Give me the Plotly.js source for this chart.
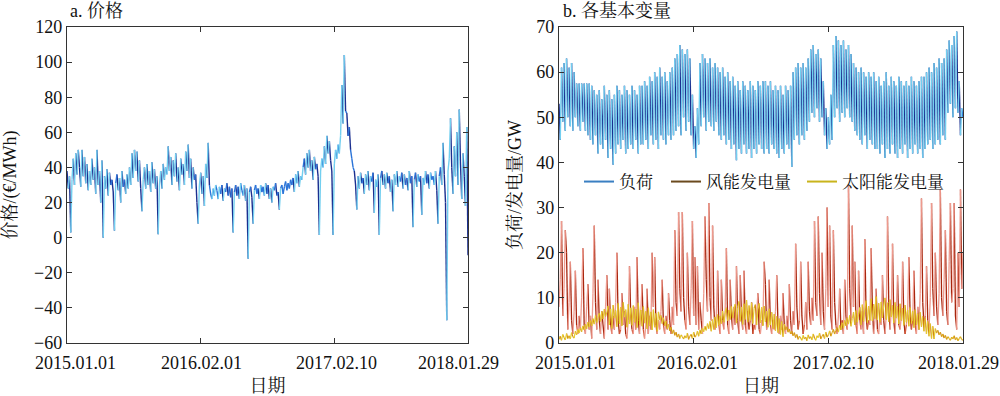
<!DOCTYPE html>
<html><head><meta charset="utf-8">
<script src="https://cdn.plot.ly/plotly-3.0.1.min.js"></script>
<style>html,body{margin:0;padding:0;background:#fff}</style>
</head><body><div id="chart" style="width:1000px;height:396px"></div>
<script>
const SPAN_DAYS = 1124;
const xTickLabels = ['2015.01.01','2016.02.01','2017.02.10','2018.01.29'];
const panelTitles = ['a. 价格','b. 各基本变量'];
const seriesNames = ['负荷','风能发电量','太阳能发电量'];

const price = [
38,28,35,3,33,45,30,48,36,50,40,29,50,35,46,31,42,27,38,30,
45,33,40,25,50,30,38,20,44,0,35,28,39,24,37,30,33,26,4,31,
36,27,34,20,38,29,33,25,36,28,40,30,48,34,50,38,49,32,44,28,
15,33,40,28,42,30,38,26,43,31,39,28,35,2,30,38,28,42,33,40,
36,52,38,46,30,44,35,48,32,40,27,45,36,42,30,49,38,53,34,45,
28,40,33,36,20,8,30,37,25,35,18,42,34,54,30,25,22,28,24,30,
27,22,29,25,30,21,28,26,31,24,29,23,28,3,26,30,24,29,22,31,
27,24,30,21,28,-12,26,29,23,8,27,30,25,28,22,30,26,29,24,31,
25,30,22,28,20,29,27,31,24,26,16,28,30,25,29,32,27,31,28,33,
30,34,26,36,31,38,29,35,33,40,
45,36,48,40,50,38,44,33,46,39,42,35,1.5,38,45,40,52,42,58,48,
55,44,38,1.5,42,50,45,53,48,58,87,65,104,72,71,58,63,50,45,40,
38,30,16,35,28,37,31,34,25,36,30,38,27,35,32,37,14,33,29,36,
1.5,34,38,30,36,28,37,31,35,26,33,15,36,30,38,29,35,32,37,28,
36,30,34,27,38,31,35,6,33,37,29,36,32,35,13,34,30,38,31,36,
28,37,33,35,30,38,27,8,35,40,
30,54,36,20,-47,38,45,68,40,25,52,35,60,30,73,42,22,48,35,18,63,-10
];

const load = [
53,45,61,49,62,47,63,50,61,48,62,47,60,50,
57.5,48,57.5,47,57.5,49,57.5,47,57.5,46,57.5,45,57,44,56,46,
55,42,56,44,54,43,57,45,55,41,56,43,54,39.5,55,42,57,44,56,43,55,45,57,42,56,43,55,44,57,43,56,45,55,42,57,44,
57,44,58,45,57,43,59,46,58,44,60,45,59,43,61,46,59,45,60,44,58,46,60,45,61,46,
63,47,64,48,66,46,65,50,64,47,65,49,63,46,
55,43,48,41,52,44,
62,48,64,50,63,47,62,49,63,48,61,47,62,49,61,46,
60,45,61,46,59,44,60,45,58,43,59,44,57,40.5,58,43,56,42,58,44,57,42,56,43,58,41,57,43,56,42,58,44,57,43,58,42,
58,43,57,42,58,44,56,43,57,42,56,41,57,43,55,42,57,44,56,43,57,39,
60,45,61,46,62,44,61,46,62,45,61,47,
63,49,65,51,66,50,64,52,65,49,63,50,
58,46,52,43,50,44,55,45,
66,50,68,52,67,49,66,51,67,50,65,52,66,50,64,49,
62,47,61,46,60,45,61,44,60,46,59,43,60,45,59,44,60,43,
58,43,59,42,57,44,58,41,60,43,57,42,59,44,58,42,57,41,59,43,58,42,57,44,58,41,57,43,59,42,58,44,57,42,58,43,59,41,
59,43,60,44,61,45,60,43,62,44,61,45,63,44,62,46,63,45,
65,51,67,53,66,50,68,52,69,51,
58,46,52,50
];

const wind = [
8,14,27,6,12,25,20,3,9,18,5,2,7,16,4,2,6,3,10,21,
4,2,8,13,3,6,1,11,26,9,3,14,5,2,7,4,1,8,15,3,
12,4,2,6,3,9,20,5,2,3,11,4,7,2,1,5,17,6,3,2,
8,3,19,5,2,7,13,3,1,4,12,2,6,3,20,8,19,4,2,5,
3,7,14,4,2,6,3,11,5,2,8,4,25,9,6,29,12,7,29,10,
5,3,20,8,4,12,27,6,19,4,17,3,9,5,2,11,28,14,7,31,
10,5,26,8,3,6,16,4,2,14,5,3,7,21,4,2,14,6,3,8,
4,17,5,2,15,6,3,16,4,2,7,3,5,9,2,4,3,6,11,3,
2,5,4,18,13,3,6,14,4,2,5,3,7,15,4,2,6,3,11,4,
2,6,3,13,5,2,7,4,22,8,3,5,18,6,2,4,9,3,18,7,
4,10,5,27,9,6,28,11,4,20,7,3,12,30,8,26,6,3,25,9,
4,2,6,12,3,5,2,14,6,3,35,12,5,26,8,18,4,2,16,5,
3,7,2,23,6,3,5,4,21,8,2,5,12,3,2,6,4,15,5,2,
6,28,9,3,7,22,5,2,8,15,4,3,6,18,5,2,4,7,19,6,
3,5,16,4,2,8,3,11,32,9,4,6,17,5,3,10,31,12,6,20,
8,4,11,34,10,6,14,25,7,4,18,31,9,12,31,6,3,20,8,34,12,20
];

const solar = [
0.8,1.5,0.6,1.9,1.2,0.7,2.1,1.0,1.6,0.9,2.3,1.4,1.1,2.6,1.8,3.0,2.2,3.4,2.5,3.8,
2.9,4.2,3.1,4.6,3.5,5.0,3.8,5.4,4.2,6.1,4.5,5.7,6.6,4.8,7.0,5.3,7.5,5.9,6.8,8.2,
4.0,7.6,3.2,8.4,5.5,7.2,3.6,8.8,4.3,7.9,3.8,9.0,5.7,7.4,3.5,8.6,4.2,7.8,3.9,8.3,
4.6,7.5,3.4,8.9,4.1,7.3,3.7,8.1,4.4,7.0,3.1,7.8,3.8,6.9,2.9,7.4,3.5,6.6,2.6,6.9,
5.2,6.1,4.3,5.6,3.8,4.9,3.2,4.2,2.7,3.5,2.1,2.9,1.7,2.4,1.3,2.0,1.0,1.8,1.4,0.9,
1.6,1.1,2.2,0.8,1.5,1.9,1.0,2.4,1.3,1.7,2.6,1.5,2.9,2.0,3.3,2.5,3.7,2.8,4.3,3.2,
4.8,2.6,5.2,3.0,5.8,3.4,6.3,3.9,6.0,4.3,7.1,4.6,6.7,7.8,4.9,7.3,5.2,8.1,5.5,7.6,
8.6,4.4,7.9,9.2,4.8,8.0,4.1,8.7,5.2,9.5,4.6,8.3,5.0,8.9,4.3,7.7,8.5,4.0,7.4,8.8,
4.5,7.9,3.8,8.2,4.7,7.1,3.5,7.6,4.0,6.8,3.2,6.4,2.7,5.9,2.3,5.4,1.9,4.8,1.4,4.2,
2.9,3.6,2.4,3.1,2.0,2.6,1.6,2.3,1.2,1.9,0.8,1.5,1.1,0.6,1.7,0.9,1.3,0.5,1.8,1.0,
1.4,0.7,2.0,1.1,0.6,1.6,1.2,2.2,0.9,1.5,1.9,1.0,2.4,1.3,1.8,2.7,1.5,2.3,3.0,2.0,
2.8,3.4,2.4,3.9,2.9,4.5,3.3,5.0,3.8,5.6,4.2,6.1,3.7,5.4,6.8,4.0,7.2,4.6,6.4,7.9,
4.0,8.5,4.8,7.5,9.4,4.5,8.2,5.0,9.8,4.9,8.6,5.4,10.3,5.1,8.8,4.6,9.1,5.6,8.4,10.0,
5.2,8.9,4.7,9.6,5.8,8.3,4.4,9.0,5.5,8.1,4.2,8.7,5.0,7.7,3.9,8.4,4.6,7.3,3.7,7.9,
4.3,7.0,3.4,7.4,4.0,6.5,3.0,6.8,3.6,5.9,2.6,5.5,2.0,4.8,1.5,4.3,1.0,3.7,0.9,3.2,
2.2,2.8,1.8,2.4,1.4,2.0,1.1,1.7,0.8,1.4,1.0,0.6,1.3,0.9,1.6,0.7,1.2,0.5,1.0,1.4,0.8,0.6
];

function xs(arr){ return arr.map((_, i) => i * SPAN_DAYS / (arr.length - 1)); }
// split a series into falling / small-change / rising segments for the multi-tone look
function segs(arr, thr){
  const x = xs(arr);
  const g = {up:{x:[],y:[]}, mid:{x:[],y:[]}, down:{x:[],y:[]}};
  for (let i = 0; i < arr.length - 1; i++){
    const d = arr[i+1] - arr[i];
    const t = Math.abs(d) < thr ? g.mid : (d > 0 ? g.up : g.down);
    t.x.push(x[i], x[i+1], null); t.y.push(arr[i], arr[i+1], null);
  }
  return g;
}
// cols = [falling, small-change, rising]; drawn in that order
function segTraces(arr, thr, cols, xa, ya, w){
  const g = segs(arr, thr);
  return ['down','mid','up'].map((k, j) => ({
    type:'scatter', mode:'lines', x:g[k].x, y:g[k].y, xaxis:xa, yaxis:ya,
    line:{color:cols[j], width:w}, showlegend:false, hoverinfo:'skip', connectgaps:false
  }));
}

const traces = [].concat(
  segTraces(price, 6, ['#1b2f8f','#2b74d8','#72cff0'], 'x', 'y', 1.4),
  segTraces(wind, 3, ['#a8260e','#d65a3c','#ee9a8e'], 'x2', 'y2', 1.3),
  segTraces(solar, 0.8, ['#d08612','#dcae1c','#e8cf30'], 'x2', 'y2', 1.2),
  segTraces(load, 5, ['#1b2f8f','#2b74d8','#72cff0'], 'x2', 'y2', 1.4),
  [
    {type:'scatter', mode:'lines', x:[null], y:[null], xaxis:'x2', yaxis:'y2', name:seriesNames[0], legend:'legend',  line:{color:'#3a7fc2', width:2}},
    {type:'scatter', mode:'lines', x:[null], y:[null], xaxis:'x2', yaxis:'y2', name:seriesNames[1], legend:'legend2', line:{color:'#6b4a1e', width:2}},
    {type:'scatter', mode:'lines', x:[null], y:[null], xaxis:'x2', yaxis:'y2', name:seriesNames[2], legend:'legend3', line:{color:'#c9b41c', width:2}}
  ]
);

const FONT = "'Liberation Serif','Times New Roman','Noto Serif CJK SC','Noto Sans CJK SC',serif";
const INK = '#111';
const M = {l:67, r:37, t:27, b:53};
const PW = 1000 - M.l - M.r, PH = 396 - M.t - M.b;
const px2x = p => (p - M.l) / PW;
const px2y = p => (396 - M.b - p) / PH;

const tickVals = [0, SPAN_DAYS/3, 2*SPAN_DAYS/3, SPAN_DAYS];
function xAxis(dom, anchor){
  return {domain:dom, anchor:anchor, range:[0, SPAN_DAYS], tickvals:tickVals, ticktext:xTickLabels,
    showticklabels:false,
    ticks:'inside', ticklen:5, tickcolor:'#333', showline:true, linecolor:'#333', linewidth:1.2,
    mirror:'ticks', showgrid:false, zeroline:false,
    title:{text:'日期', font:{family:FONT, size:18, color:INK}, standoff:36}};
}
function yAxis(range, dtick, title, anchor, standoff){
  return {domain:[0, 1], range:range, dtick:dtick, anchor:anchor,
    ticks:'inside', ticklen:5, tickcolor:'#333', showline:true, linecolor:'#333', linewidth:1.2,
    mirror:'ticks', showgrid:false, zeroline:false,
    tickfont:{family:FONT, size:18, color:INK},
    title:{text:title, font:{family:FONT, size:18, color:INK}, standoff:standoff}};
}

// x tick labels: placed under each tick, the outer ones nudged inward as in the reference
const labelShift = [[8, 1, 2, -10], [16, 4, 5, -5]];
const annotations = [];
['x','x2'].forEach((xr, a) => {
  tickVals.forEach((v, k) => annotations.push({
    text:xTickLabels[k], xref:xr, yref:'paper', x:v, y:0, xanchor:'center', yanchor:'middle',
    xshift:labelShift[a][k], yshift:-20, showarrow:false, font:{family:FONT, size:18, color:INK}
  }));
});
annotations.push(
  {text:panelTitles[0], xref:'paper', yref:'paper', x:px2x(68), y:px2y(11), xanchor:'left', yanchor:'middle', showarrow:false, font:{family:FONT, size:18, color:INK}},
  {text:panelTitles[1], xref:'paper', yref:'paper', x:px2x(561), y:px2y(11), xanchor:'left', yanchor:'middle', showarrow:false, font:{family:FONT, size:18, color:INK}}
);

function legendAt(p){
  return {orientation:'h', x:px2x(p), y:px2y(182), xanchor:'left', yanchor:'middle',
    bgcolor:'rgba(0,0,0,0)', font:{family:FONT, size:17, color:INK}, itemwidth:30};
}

const layout = {
  width:1000, height:396, margin:M,
  paper_bgcolor:'#fff', plot_bgcolor:'#fff',
  xaxis: xAxis([0, px2x(468)], 'y'),
  yaxis: yAxis([-60, 120], 20, '价格/(€/MWh)', 'x', 14),
  xaxis2: xAxis([px2x(559), 1], 'y2'),
  yaxis2: yAxis([0, 70], 10, '负荷/发电量/GW', 'x2', 10),
  showlegend:true,
  legend: legendAt(579),
  legend2: legendAt(666),
  legend3: legendAt(802),
  annotations: annotations
};
Plotly.newPlot('chart', traces, layout, {displayModeBar:false, staticPlot:true});
</script></body></html>
